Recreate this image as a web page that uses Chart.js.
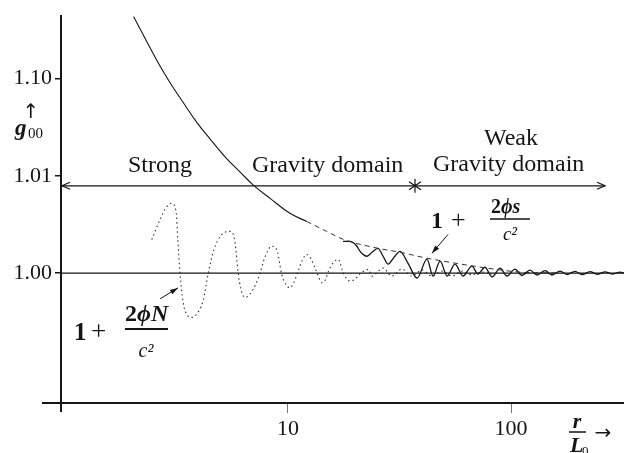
<!DOCTYPE html>
<html>
<head>
<meta charset="utf-8">
<script src="https://cdn.jsdelivr.net/npm/chart.js@4"></script>
<style>
  body { margin: 0; background: #fff; }
  canvas { display: block; }
</style>
</head>
<body>
<canvas id="myChart" width="624" height="453"></canvas>
<script>
// axis ranges and ticks (y is a schematic scale: 1.00, 1.01, 1.10 equally spaced)
var xMin = 0.96, xMax = 321;
var yMin = -1.337, yMax = 2.643;
var xTicks = [10, 100];
var yTickPos = [0, 1, 2];
var yTickLabels = ['1.00', '1.01', '1.10'];

// 1 + 2phi_s/c^2 : smooth part
var sR = [2.03, 2.58, 2.96, 3.39, 3.90, 4.47, 5.31, 6.09, 6.99, 8.31, 10.2, 12.13];
var sY = [2.64, 2.19, 1.959, 1.755, 1.551, 1.381, 1.177, 1.041, 0.905, 0.769, 0.615, 0.531];
// its dashed envelope
var envR = [12.13, 14.9, 17.7, 25.3, 31.8, 42.0, 56.1, 78.0, 109.6, 160];
var envY = [0.531, 0.429, 0.347, 0.255, 0.214, 0.153, 0.102, 0.051, 0.010, 0.0];
// its oscillating part
var wigR = [17.65, 18.97, 20.2, 21.2, 22.6, 23.8, 25.3, 26.7, 28.1, 29.9, 31.8, 34.5, 37.9, 42.0,
            44.7, 48.1, 51.7, 56.1, 60.9, 66.8, 71.1, 76.4, 82.2, 89.3, 95.9, 104.2, 112.0, 121.7,
            130.8, 142.1, 152.7, 165.9, 178.3, 193.6, 208.2, 226.1, 243.0, 264.0, 283.8, 308.3, 321];
var wigY = [0.327, 0.327, 0.286, 0.214, 0.173, 0.214, 0.255, 0.173, 0.092, 0.163, 0.224, 0.102, -0.051, 0.143,
            -0.031, 0.122, -0.031, 0.092, -0.031, 0.071, -0.010, 0.06, -0.04, 0.05, -0.03, 0.04, -0.025, 0.03,
            -0.02, 0.025, -0.02, 0.02, -0.015, 0.018, -0.015, 0.015, -0.012, 0.012, -0.01, 0.01, 0];

// 1 + 2phi_N/c^2 (dotted)
var nR = [2.45, 2.67, 2.84, 3.00, 3.15, 3.21, 3.28, 3.38, 3.52, 3.70, 3.91, 4.16, 4.39, 4.66, 5.01,
          5.50, 5.78, 5.98, 6.15, 6.41, 6.76, 7.11, 7.49, 7.88, 8.45, 8.93, 9.37, 9.80, 10.2, 10.6,
          11.1, 11.6, 12.1, 12.7, 13.4, 14.2, 14.7, 15.2, 15.9, 16.8, 17.7, 19.0, 20.0, 21.0, 22.9,
          23.8, 26.7, 29.2, 32.4, 35.9, 39.9, 44.2, 49.1, 54.4, 60.3, 66.8, 74.1, 82.2];
var nY = [0.344, 0.551, 0.673, 0.717, 0.633, 0.327, 0, -0.286, -0.429, -0.456, -0.418, -0.286, 0, 0.245, 0.388,
          0.429, 0.327, 0, -0.163, -0.252, -0.214, -0.133, 0, 0.163, 0.276, 0.235, -0.013, -0.122, -0.150, -0.102,
          0.020, 0.133, 0.191, 0.143, 0.020, -0.099, -0.071, 0.020, 0.102, 0.140, 0, -0.082, -0.061, -0.010, 0.038,
          -0.031, 0.051, -0.031, 0.041, -0.031, 0.031, -0.031, 0.020, -0.031, 0.020, -0.020, 0.010, -0.010];

// domain arrow (strong | weak)
var domainR = [0.96, 264];
var domainY = 0.898;
var domainSplit = 37.1;

// pointer arrows [fromR, fromY, toR, toY]
var pointS = [52.2, 0.398, 44.2, 0.204];
var pointN = [2.67, -0.265, 3.21, -0.153];

function pts(xs, ys) {
    return xs.map(function (v, i) { return {x: v, y: ys[i]}; });
}

var INK = '#151515';
var SERIF = '"Liberation Serif", "DejaVu Serif", serif';

function arrowHead(ctx, x0, y0, x1, y1, len, half) {
    var a = Math.atan2(y1 - y0, x1 - x0);
    ctx.beginPath();
    ctx.moveTo(x1, y1);
    ctx.lineTo(x1 - len * Math.cos(a) + half * Math.sin(a), y1 - len * Math.sin(a) - half * Math.cos(a));
    ctx.lineTo(x1 - len * Math.cos(a) - half * Math.sin(a), y1 - len * Math.sin(a) + half * Math.cos(a));
    ctx.closePath();
    ctx.fill();
}

function txt(ctx, s, x, y, font, align) {
    ctx.font = font;
    ctx.textAlign = align || 'left';
    ctx.textBaseline = 'alphabetic';
    ctx.fillText(s, x, y);
}

var notes = {
    id: 'notes',
    afterDraw: function (chart) {
        var ctx = chart.ctx, xs = chart.scales.x, ys = chart.scales.y, a = chart.chartArea;
        ctx.save();
        ctx.strokeStyle = INK;
        ctx.fillStyle = INK;

        // axis overhangs at the origin
        ctx.lineWidth = 2;
        ctx.beginPath();
        ctx.moveTo(a.left - 19, a.bottom); ctx.lineTo(a.left, a.bottom);
        ctx.moveTo(a.left, a.bottom); ctx.lineTo(a.left, a.bottom + 9);
        ctx.stroke();

        // domain arrow heads and split mark
        var ya = ys.getPixelForValue(domainY);
        var xl = xs.getPixelForValue(domainR[0]) + 1;
        var xr = xs.getPixelForValue(domainR[1]);
        var xm = xs.getPixelForValue(domainSplit);
        ctx.lineWidth = 1.2;
        ctx.beginPath();
        ctx.moveTo(xl + 8, ya - 3.5); ctx.lineTo(xl, ya); ctx.lineTo(xl + 8, ya + 3.5);
        ctx.moveTo(xr - 8, ya - 3.5); ctx.lineTo(xr, ya); ctx.lineTo(xr - 8, ya + 3.5);
        ctx.moveTo(xm, ya - 7); ctx.lineTo(xm, ya + 7);
        ctx.moveTo(xm - 6, ya - 4); ctx.lineTo(xm, ya); ctx.lineTo(xm - 6, ya + 4);
        ctx.moveTo(xm + 6, ya - 4); ctx.lineTo(xm, ya); ctx.lineTo(xm + 6, ya + 4);
        ctx.stroke();

        // pointer arrows
        [pointS, pointN].forEach(function (p) {
            var x0 = xs.getPixelForValue(p[0]), y0 = ys.getPixelForValue(p[1]);
            var x1 = xs.getPixelForValue(p[2]), y1 = ys.getPixelForValue(p[3]);
            ctx.lineWidth = 1;
            ctx.beginPath(); ctx.moveTo(x0, y0); ctx.lineTo(x1, y1); ctx.stroke();
            arrowHead(ctx, x0, y0, x1, y1, 8, 2.6);
        });

        // domain labels
        txt(ctx, 'Strong', 128, 172, '24px ' + SERIF);
        txt(ctx, 'Gravity domain', 252, 172, '24px ' + SERIF);
        txt(ctx, 'Weak', 511, 145, '24px ' + SERIF, 'center');
        txt(ctx, 'Gravity domain', 433, 171, '24px ' + SERIF);

        // formula 1 + 2phi_s/c^2
        txt(ctx, '1', 431, 228, 'bold 24px ' + SERIF);
        txt(ctx, '+', 451, 228, '26px ' + SERIF);
        txt(ctx, '2', 491, 213, 'bold 20px ' + SERIF);
        txt(ctx, '\u03d5s', 501, 213, 'italic bold 20px ' + SERIF);
        txt(ctx, 'c\u00b2', 510, 240, 'italic 19px ' + SERIF, 'center');
        ctx.lineWidth = 1.6;
        ctx.beginPath(); ctx.moveTo(490, 219); ctx.lineTo(530, 219); ctx.stroke();

        // formula 1 + 2phi_N/c^2
        txt(ctx, '1', 74, 340, 'bold 25px ' + SERIF);
        txt(ctx, '+', 91, 340, '27px ' + SERIF);
        txt(ctx, '2', 125, 321, 'bold 24px ' + SERIF);
        txt(ctx, '\u03d5N', 137, 321, 'italic bold 24px ' + SERIF);
        txt(ctx, 'c\u00b2', 146, 357, 'italic 20px ' + SERIF, 'center');
        ctx.lineWidth = 2;
        ctx.beginPath(); ctx.moveTo(125, 329); ctx.lineTo(168, 329); ctx.stroke();

        // y axis title
        txt(ctx, '\u2191', 31, 118, '20px "DejaVu Sans", sans-serif', 'center');
        txt(ctx, 'g', 15, 135, 'italic bold 23px ' + SERIF);
        txt(ctx, '00', 28, 138, '15px ' + SERIF);

        // x axis title
        txt(ctx, 'r', 577, 428, 'italic bold 22px ' + SERIF, 'center');
        ctx.lineWidth = 1.5;
        ctx.beginPath(); ctx.moveTo(569, 432); ctx.lineTo(586, 432); ctx.stroke();
        txt(ctx, 'L', 570, 452, 'italic bold 22px ' + SERIF);
        txt(ctx, '0', 582, 455, '13px ' + SERIF);
        txt(ctx, '\u2192', 603, 439, '20px "DejaVu Sans", sans-serif', 'center');

        ctx.restore();
    }
};

var ctx = document.getElementById('myChart').getContext('2d');
var myChart = new Chart(ctx, {
    type: 'line',
    data: {
        datasets: [{
            label: 'unity',
            data: pts([xMin, xMax], [0, 0]),
            borderColor: INK,
            borderWidth: 1.3
        }, {
            label: 'domain',
            data: pts(domainR, [domainY, domainY]),
            borderColor: INK,
            borderWidth: 1.2
        }, {
            label: '1 + 2phi_s/c^2',
            data: pts(sR, sY),
            borderColor: INK,
            borderWidth: 1.1,
            tension: 0.4
        }, {
            label: 'envelope',
            data: pts(envR, envY),
            borderColor: '#333',
            borderWidth: 1,
            borderDash: [5, 4],
            cubicInterpolationMode: 'monotone'
        }, {
            label: 'oscillating s',
            data: pts(wigR, wigY),
            borderColor: INK,
            borderWidth: 1.3,
            cubicInterpolationMode: 'monotone'
        }, {
            label: '1 + 2phi_N/c^2',
            data: pts(nR, nY),
            borderColor: '#333',
            borderWidth: 1.1,
            borderDash: [1.5, 3],
            cubicInterpolationMode: 'monotone'
        }]
    },
    options: {
        responsive: false,
        animation: false,
        devicePixelRatio: 1,
        layout: { padding: { left: 0, right: 0, top: 13, bottom: 0 } },
        elements: { point: { radius: 0 } },
        plugins: {
            legend: { display: false },
            tooltip: { enabled: false }
        },
        scales: {
            x: {
                type: 'logarithmic',
                min: xMin,
                max: xMax,
                afterBuildTicks: function (s) { s.ticks = xTicks.map(function (v) { return {value: v}; }); },
                afterFit: function (s) { s.height = 50; },
                ticks: {
                    callback: function (v) { return String(v); },
                    font: { family: SERIF, size: 22 },
                    color: INK,
                    padding: 3,
                    maxRotation: 0,
                    autoSkip: false
                },
                grid: { drawOnChartArea: false, drawTicks: true, tickLength: 10, color: '#777', lineWidth: 1 },
                border: { color: INK, width: 2 }
            },
            y: {
                type: 'linear',
                min: yMin,
                max: yMax,
                afterBuildTicks: function (s) { s.ticks = yTickPos.map(function (v) { return {value: v}; }); },
                afterFit: function (s) { s.width = 61; },
                ticks: {
                    callback: function (v) { return yTickLabels[yTickPos.indexOf(v)]; },
                    font: { family: SERIF, size: 22 },
                    color: INK,
                    padding: 3
                },
                grid: { drawOnChartArea: false, drawTicks: true, tickLength: 6, color: INK, lineWidth: 1.5 },
                border: { color: INK, width: 2 }
            }
        }
    },
    plugins: [notes]
});
</script>
</body>
</html>
